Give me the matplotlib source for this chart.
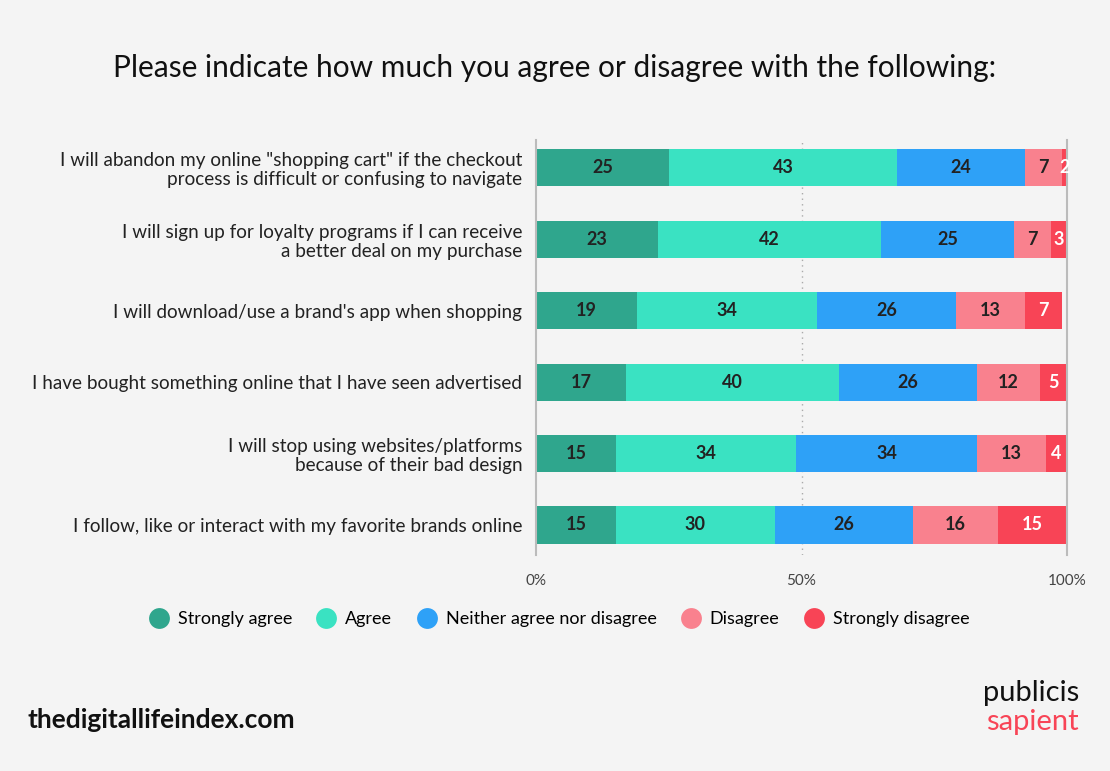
import numpy as np
import matplotlib
matplotlib.use("Agg")
import matplotlib.pyplot as plt
from matplotlib.lines import Line2D

# survey statements, top to bottom
STATEMENTS = [
    'I will abandon my online "shopping cart" if the checkout\nprocess is difficult or confusing to navigate',
    "I will sign up for loyalty programs if I can receive\na better deal on my purchase",
    "I will download/use a brand's app when shopping",
    "I have bought something online that I have seen advertised",
    "I will stop using websites/platforms\nbecause of their bad design",
    "I follow, like or interact with my favorite brands online",
]
RESPONSES = ["Strongly agree", "Agree", "Neither agree nor disagree",
             "Disagree", "Strongly disagree"]

strongly_agree = [25, 23, 19, 17, 15, 15]
agree = [43, 42, 34, 40, 34, 30]
neither = [24, 25, 26, 26, 34, 26]
disagree = [7, 7, 13, 12, 13, 16]
strongly_disagree = [2, 3, 7, 5, 4, 15]

COLORS = ["#2fa68d", "#3ae2c2", "#2ea1f7", "#f9818e", "#f84456"]
TEXT_COLORS = ["#222222", "#222222", "#222222", "#222222", "white"]
BG = "#f4f4f4"
FONT = "Lato"


def main():
    series = [strongly_agree, agree, neither, disagree, strongly_disagree]
    fig = plt.figure(figsize=(11.1, 7.71), dpi=100, facecolor=BG)
    ax = fig.add_axes([0.4829, 0.2802, 0.4784, 0.5382], facecolor=BG)

    y = np.arange(len(STATEMENTS))
    left = np.zeros(len(STATEMENTS))
    for vals, col, tcol in zip(series, COLORS, TEXT_COLORS):
        vals = np.array(vals, dtype=float)
        ax.barh(y, vals, left=left, height=0.52, color=col, zorder=2)
        for yi, (l, v) in enumerate(zip(left, vals)):
            # keep the label inside the visible (clipped at 100%) part of the bar
            cx = (l + min(l + v, 100)) / 2
            ax.text(cx, yi, f"{int(v)}", ha="center", va="center", color=tcol,
                    fontsize=13, fontweight="bold", family=FONT, zorder=3)
        left += vals

    ax.set_xlim(0, 100)
    ax.set_ylim(5.42, -0.39)
    ax.axvline(50, color="#aaaaaa", lw=1, ls=(0, (1, 3)), zorder=1)
    for s in ["top", "bottom"]:
        ax.spines[s].set_visible(False)
    for s in ["left", "right"]:
        ax.spines[s].set_color("#bbbbbb")
        ax.spines[s].set_linewidth(1.5)

    ax.set_xticks([0, 50, 100])
    ax.set_xticklabels(["0%", "50%", "100%"], fontsize=11, color="#444444", family=FONT)
    ax.tick_params(axis="x", length=0, pad=14)
    ax.set_yticks(y)
    ax.set_yticklabels(STATEMENTS, fontsize=13.6, color="#222222", family=FONT,
                       linespacing=1.15)
    ax.tick_params(axis="y", length=0, pad=10)

    fig.text(0.5, 0.912, "Please indicate how much you agree or disagree with the following:",
             ha="center", va="center", fontsize=21.5, color="#111111", family=FONT)

    handles = [Line2D([], [], marker="o", ls="", ms=15, color=c, markeredgewidth=0)
               for c in COLORS]
    fig.legend(handles, RESPONSES, loc="center", bbox_to_anchor=(0.5, 0.197),
               ncol=5, frameon=False, handletextpad=0.05, columnspacing=0.9,
               prop={"family": FONT, "size": 13})

    fig.text(0.025, 0.066, "thedigitallifeindex.com", ha="left", va="center",
             fontsize=19, fontweight="bold", color="#111111", family=FONT)
    fig.text(0.972, 0.101, "publicis", ha="right", va="center",
             fontsize=21, color="#111111", family=FONT)
    fig.text(0.972, 0.064, "sapient", ha="right", va="center",
             fontsize=21, color="#f84456", family=FONT)

    fig.savefig("out.png", dpi=100, facecolor=BG)
    plt.close(fig)


if __name__ == "__main__":
    main()
